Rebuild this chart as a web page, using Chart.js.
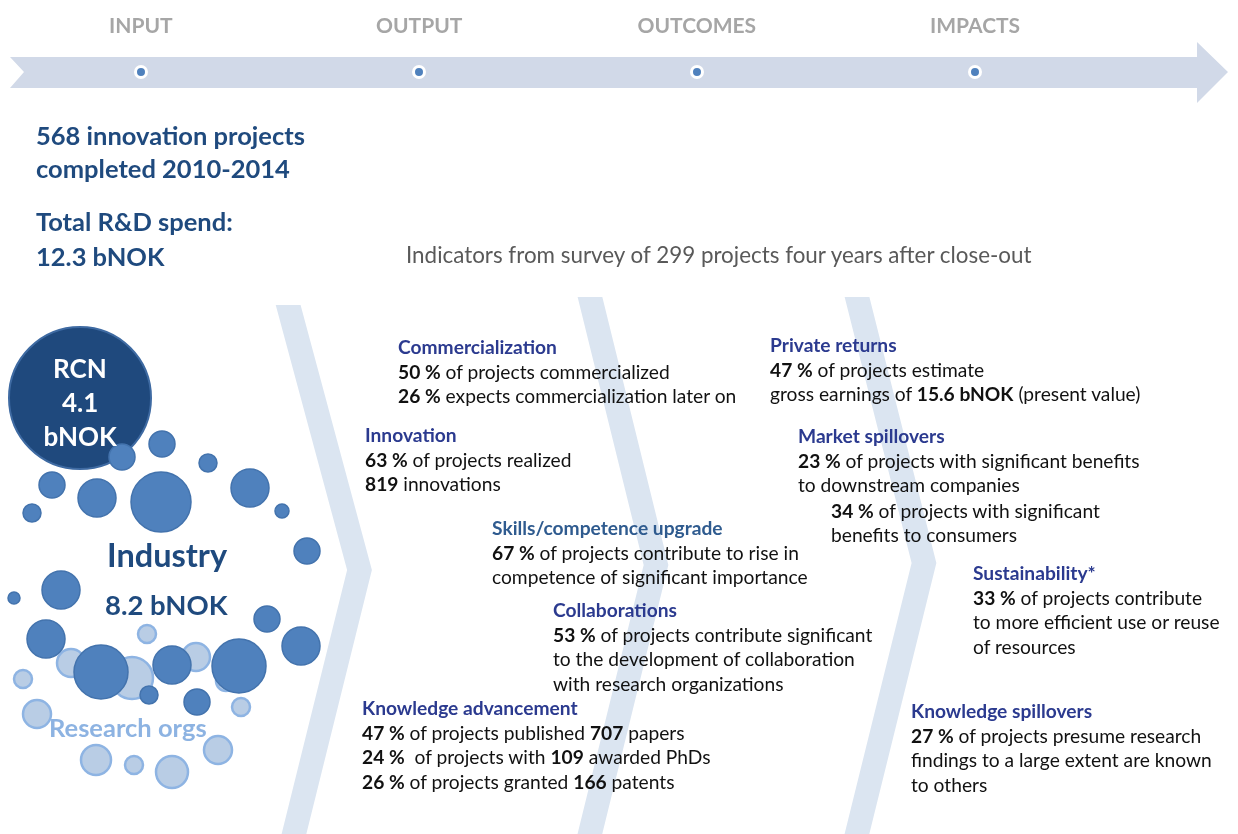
<!DOCTYPE html>
<html lang="en">
<head>
  <meta charset="UTF-8">
  <title>Innovation projects – input, output, outcomes, impacts</title>
  <script src="https://cdn.jsdelivr.net/npm/chart.js"></script>
  <style>
    body {
      margin: 0;
      background: #ffffff;
      font-family: Lato, "Open Sans", sans-serif;
    }
    #wrap {
      position: relative;
      width: 1238px;
      height: 834px;
      overflow: hidden;
    }
    #flow { position: absolute; left: 0; top: 0; }
    #labels { position: absolute; left: 0; top: 0; width: 1238px; height: 834px; pointer-events: none; }
    .txt { position: absolute; white-space: nowrap; }
    .mk { display: inline-block; width: 0; height: 0; vertical-align: baseline; }
    .stage { font-weight: 700; font-size: 21px; color: #a6a6a6; }
    .lead { font-weight: 700; font-size: 25.5px; color: #1f4a7e; }
    .survey { font-size: 22.4px; color: #595959; }
    .rcn { font-weight: 700; font-size: 26px; color: #ffffff; }
    .industry { font-weight: 700; font-size: 32.5px; color: #1f4a7e; }
    .industry2 { font-weight: 700; font-size: 27.5px; color: #1f4a7e; }
    .research { font-weight: 700; font-size: 25.5px; color: #8db3e2; }
    .head { font-weight: 700; font-size: 19.2px; color: #2b3a8f; }
    .head.alt { color: #2f5b8f; }
    .body { font-size: 19.2px; color: #111111; }
  </style>
</head>
<body>
  <div id="wrap">
    <canvas id="flow" width="1238" height="834"></canvas>
    <div id="labels"></div>
  </div>

  <script>
    // timeline stages
    const stageLabels = ['INPUT', 'OUTPUT', 'OUTCOMES', 'IMPACTS'];
    const stageX = [141, 419, 697, 975];

    // arrow outline (x, y)
    const arrowX = [10, 1197, 1197, 1228, 1197, 1197, 10, 24];
    const arrowY = [57, 57, 42, 72, 103, 88, 88, 72];

    // chevron centre lines: top, tip, bottom
    const chevron1 = [[286, 297], [359.5, 570], [287, 862]];
    const chevron2 = [[588, 289], [656, 565], [583, 862]];
    const chevron3 = [[855, 289], [924, 563], [850, 862]];
    const chevronTop = [305, 297, 297];

    // bubbles [x, y, r]
    const rcnBubble = [[80, 398, 71]];
    const industryBubbles = [
      [122, 457, 13], [162, 444, 13], [208, 463, 9], [52, 485, 13], [97, 498, 19],
      [161, 502, 30], [250, 488, 19], [32, 513, 9], [282, 511, 7], [307, 551, 13],
      [61, 590, 19], [14, 598, 6], [267, 619, 13], [46, 639, 19], [301, 646, 19],
      [101, 672, 27], [172, 665, 19], [239, 666, 27], [149, 695, 9], [197, 702, 13]
    ];
    const researchBubbles = [
      [147, 634, 9], [71, 663, 14], [132, 678, 21], [196, 657, 14], [226, 681, 10],
      [241, 707, 9], [23, 679, 9], [37, 714, 14], [218, 750, 14], [96, 760, 15],
      [134, 765, 9], [172, 772, 16]
    ];

    // texts
    const leadLines = [
      ['568 innovation projects', 145],
      ['completed 2010-2014', 178],
      ['Total R&amp;D spend:', 231],
      ['12.3 bNOK', 266]
    ];
    const surveyNote = 'Indicators from survey of 299 projects four years after close-out';
    const rcnLines = ['RCN', '4.1', 'bNOK'];

    const sections = [
      { title: 'Commercialization', x: 398, y: 354, lines: [
        '<b>50 %</b> of projects commercialized',
        '<b>26 %</b> expects commercialization later on'] },
      { title: 'Innovation', x: 365, y: 442, lines: [
        '<b>63 %</b> of projects realized',
        '<b>819</b> innovations'] },
      { title: 'Skills/competence upgrade', x: 492, y: 535, alt: true, lines: [
        '<b>67 %</b> of projects contribute to rise in',
        'competence of significant importance'] },
      { title: 'Collaborations', x: 553, y: 617, lines: [
        '<b>53 %</b> of projects contribute significant',
        'to the development of collaboration',
        'with research organizations'] },
      { title: 'Knowledge advancement', x: 362, y: 715, lines: [
        '<b>47 %</b> of projects published <b>707</b> papers',
        '<b>24 %</b>&nbsp; of projects with <b>109</b> awarded PhDs',
        '<b>26 %</b> of projects granted <b>166</b> patents'] },
      { title: 'Private returns', x: 770, y: 352, lines: [
        '<b>47 %</b> of projects estimate',
        'gross earnings of <b>15.6 bNOK</b> (present value)'] },
      { title: 'Market spillovers', x: 798, y: 443, lines: [
        '<b>23 %</b> of projects with significant benefits',
        'to downstream companies'] },
      { title: '', x: 831, y: 493, lines: [
        '<b>34 %</b> of projects with significant',
        'benefits to consumers'] },
      { title: 'Sustainability*', x: 973, y: 580, lines: [
        '<b>33 %</b> of projects contribute',
        'to more efficient use or reuse',
        'of resources'] },
      { title: 'Knowledge spillovers', x: 911, y: 718, lines: [
        '<b>27 %</b> of projects presume research',
        'findings to a large extent are known',
        'to others'] }
    ];
    const lineStep = 24.6;

    const toPoints = (arr) => arr.map(p => ({ x: p[0], y: p[1] }));
    const toBubbles = (arr) => arr.map(p => ({ x: p[0], y: p[1], r: p[2] }));

    // arrow shape drawn behind everything through the chart scales
    const arrowPlugin = {
      id: 'arrowShape',
      beforeDatasetsDraw(chart) {
        const { ctx, scales } = chart;
        ctx.save();
        ctx.beginPath();
        arrowX.forEach((x, i) => {
          const px = scales.x.getPixelForValue(x);
          const py = scales.y.getPixelForValue(arrowY[i]);
          if (i === 0) ctx.moveTo(px, py); else ctx.lineTo(px, py);
        });
        ctx.closePath();
        ctx.fillStyle = '#d1d9e8';
        ctx.fill();
        ctx.restore();
      }
    };

    function chevronSet(pts, top) {
      return {
        type: 'line',
        data: toPoints(pts),
        borderColor: '#dbe5f1',
        borderWidth: 24,
        borderJoinStyle: 'miter',
        borderCapStyle: 'butt',
        pointRadius: 0,
        fill: false,
        tension: 0,
        clip: { left: 0, top: -top, right: 0, bottom: 0 },
        order: 5
      };
    }

    new Chart(document.getElementById('flow'), {
      type: 'bubble',
      data: {
        datasets: [
          {
            label: 'Stages',
            data: stageX.map(x => ({ x: x, y: 72, r: 5.5 })),
            backgroundColor: '#4f81bd',
            borderColor: '#ffffff',
            borderWidth: 3,
            order: 0
          },
          {
            label: 'Industry',
            data: toBubbles(industryBubbles),
            backgroundColor: '#4f81bd',
            borderColor: '#4373ad',
            borderWidth: 1.5,
            order: 1
          },
          {
            label: 'RCN',
            data: toBubbles(rcnBubble),
            backgroundColor: '#1f497d',
            borderColor: '#3e6aa2',
            borderWidth: 2,
            order: 2
          },
          {
            label: 'Research orgs',
            data: toBubbles(researchBubbles),
            backgroundColor: '#b9cde5',
            borderColor: '#8eb4e3',
            borderWidth: 2.5,
            order: 3
          },
          chevronSet(chevron1, chevronTop[0]),
          chevronSet(chevron2, chevronTop[1]),
          chevronSet(chevron3, chevronTop[2])
        ]
      },
      options: {
        responsive: false,
        animation: false,
        events: [],
        layout: { padding: 0, autoPadding: false },
        plugins: { legend: { display: false }, tooltip: { enabled: false } },
        scales: {
          x: { type: 'linear', min: 0, max: 1238, display: false },
          y: { type: 'linear', min: 0, max: 834, reverse: true, display: false }
        }
      },
      plugins: [arrowPlugin]
    });

    // text layer, each line placed by its baseline
    const layer = document.getElementById('labels');
    function placeLine(html, x, baseline, cls, centred) {
      const d = document.createElement('div');
      d.className = 'txt ' + cls;
      d.innerHTML = html + '<span class="mk"></span>';
      layer.appendChild(d);
      if (centred) d.style.left = (x - d.offsetWidth / 2) + 'px';
      else d.style.left = x + 'px';
      const mk = d.querySelector('.mk');
      d.style.top = (baseline - mk.offsetTop) + 'px';
    }

    stageLabels.forEach((s, i) => placeLine(s, stageX[i], 33, 'stage', true));
    leadLines.forEach(l => placeLine(l[0], 36, l[1], 'lead'));
    placeLine(surveyNote, 406, 263, 'survey');
    rcnLines.forEach((s, i) => placeLine(s, 80, 378 + i * 34, 'rcn', true));
    placeLine('Industry', 107, 567, 'industry');
    placeLine('8.2 bNOK', 105, 615, 'industry2');
    placeLine('Research orgs', 49, 737, 'research');

    sections.forEach(s => {
      let y = s.y;
      if (s.title) {
        placeLine(s.title, s.x, y, 'head' + (s.alt ? ' alt' : ''));
      }
      s.lines.forEach(l => {
        y += lineStep;
        placeLine(l, s.x, y, 'body');
      });
    });
  </script>
</body>
</html>
